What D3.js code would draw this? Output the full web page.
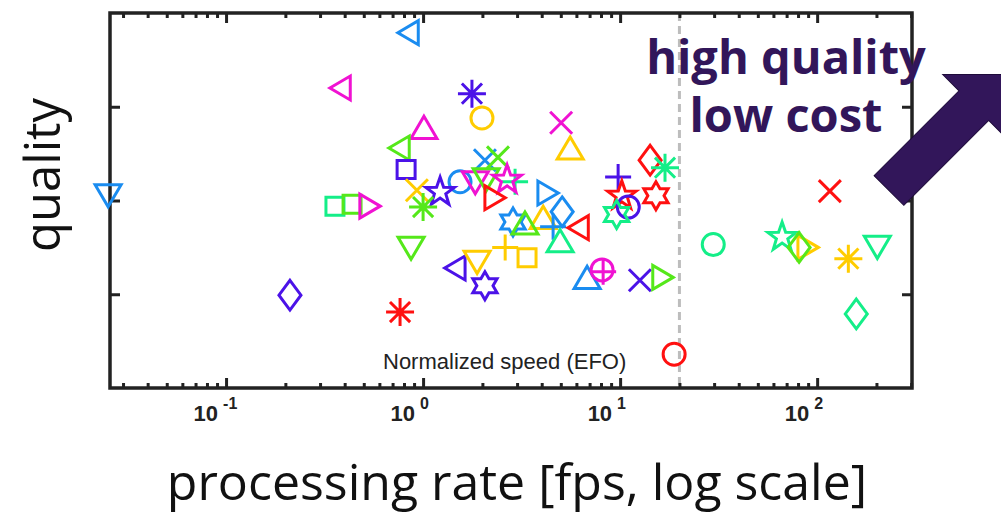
<!DOCTYPE html>
<html>
<head>
<meta charset="utf-8">
<script src="https://cdn.jsdelivr.net/npm/d3@7"></script>
<style>
  body { margin: 0; background: #fff; }
  svg { display: block; }
</style>
</head>
<body>
<div class="chart"></div>
<script>
// trackers: speed (EFO, log scale), quality, marker shape, colour group
const speed = [0.0252, 0.839, 0.379, 1.77, 1.99, 1.01, 0.755, 0.820, 5.02, 5.58,
  2.06, 2.40, 14.2, 16.9, 9.77, 10.2, 15.2, 11.0, 9.6, 1.54,
  0.93, 1.22, 1.00, 1.84, 2.09, 2.93, 2.67, 2.32, 4.31, 5.08,
  4.07, 2.86, 3.29, 4.57, 6.12, 4.96, 2.61, 3.37, 0.869, 1.45,
  1.88, 2.06, 0.764, 0.211, 0.357, 0.436, 0.538, 6.80, 8.10, 8.2,
  12.6, 16.5, 18.8, 29.7, 66.4, 90.0, 81.0, 144, 202, 158, 116];
const quality = [0.405, 0.579, 0.520, 0.514, 0.488, 0.478, 0.456, 0.433, 0.483, 0.456,
  0.443, 0.446, 0.443, 0.435, 0.425, 0.405, 0.405, 0.393, 0.385, 0.420,
  0.411, 0.409, 0.393, 0.419, 0.422, 0.420, 0.422, 0.403, 0.408, 0.388,
  0.382, 0.377, 0.376, 0.372, 0.371, 0.357, 0.350, 0.339, 0.349, 0.328,
  0.334, 0.309, 0.281, 0.299, 0.394, 0.396, 0.394, 0.318, 0.326, 0.324,
  0.315, 0.318, 0.236, 0.353, 0.361, 0.350, 0.350, 0.338, 0.350, 0.279, 0.410];
const shape = ["triDown", "triLeft", "triLeft", "asterisk", "circle", "triUp", "triLeft", "square", "cross", "triUp",
  "cross", "cross", "diamond", "asterisk", "plus", "pentagram", "hexagram", "circle", "hexagram", "circle",
  "cross", "pentagram", "asterisk", "triDown", "triDown", "plus", "pentagram", "triRight", "triRight", "diamond",
  "triUp", "hexagram", "triUp", "plus", "triLeft", "triUp", "plus", "square", "triDown", "triLeft",
  "triDown", "hexagram", "asterisk", "diamond", "square", "square", "triRight", "triUp", "circle", "plus",
  "cross", "triRight", "circle", "circle", "pentagram", "triRight", "diamond", "asterisk", "triDown", "diamond", "cross"];
const tone = ["azure", "azure", "magenta", "purple", "yellow", "magenta", "green", "purple", "magenta", "yellow",
  "azure", "green", "red", "mint", "purple", "red", "red", "purple", "mint", "azure",
  "yellow", "purple", "green", "magenta", "green", "mint", "magenta", "red", "azure", "azure",
  "yellow", "azure", "green", "azure", "red", "mint", "yellow", "yellow", "green", "purple",
  "yellow", "purple", "red", "purple", "mint", "green", "magenta", "azure", "magenta", "magenta",
  "purple", "green", "red", "mint", "mint", "yellow", "green", "yellow", "mint", "mint", "red"];

const xPowers = [-1, 0, 1, 2];
const yTicks = [0.3, 0.4, 0.5];
const efoLimit = 20;

const data = speed.map((s, i) => ({speed: s, quality: quality[i], shape: shape[i], tone: tone[i]}));

const palette = {
  red: "#ff1010", yellow: "#ffcc00", green: "#55e81a", mint: "#14ee88",
  azure: "#1a8cf0", purple: "#4b12e8", magenta: "#f012d2"
};

const width = 1001, height = 515;
const box = {left: 110, right: 912, top: 13, bottom: 388};

const svg = d3.select(".chart").append("svg")
  .attr("width", width)
  .attr("height", height);

const xScale = d3.scaleLog()
  .domain([0.02576, 303])
  .range([box.left, box.right]);

const yScale = d3.scaleLinear()
  .domain([0.2, 0.6])
  .range([box.bottom, box.top]);

// minor log ticks inside the domain
const minor = [];
for (let p = -2; p <= 2; p++) {
  for (let k = 2; k <= 9; k++) {
    const v = k * Math.pow(10, p);
    if (v > xScale.domain()[0] && v < xScale.domain()[1]) minor.push(v);
  }
}
const major = xPowers.map(p => Math.pow(10, p));

// dashed EFO limit
svg.append("line")
  .attr("x1", xScale(efoLimit)).attr("x2", xScale(efoLimit))
  .attr("y1", box.top).attr("y2", box.bottom)
  .attr("stroke", "#bdbdbd")
  .attr("stroke-width", 3)
  .attr("stroke-dasharray", "8,5");

svg.append("text")
  .attr("x", 383)
  .attr("y", 369)
  .attr("font-family", "Liberation Sans, Arial, sans-serif")
  .attr("font-size", 22)
  .attr("fill", "#222")
  .text("Normalized speed (EFO)");

// axes (ticks point inward)
function tickAxis(g, axis) {
  g.call(axis).call(a => a.select(".domain").remove());
  g.selectAll(".tick line").attr("stroke", "#222").attr("stroke-width", 3);
  g.selectAll(".tick text").remove();
}

svg.append("g").attr("transform", `translate(0,${box.bottom})`)
  .call(g => tickAxis(g, d3.axisBottom(xScale).tickValues(minor).tickSize(-5)));
svg.append("g").attr("transform", `translate(0,${box.bottom})`)
  .call(g => tickAxis(g, d3.axisBottom(xScale).tickValues(major).tickSize(-10)));
svg.append("g").attr("transform", `translate(0,${box.top})`)
  .call(g => tickAxis(g, d3.axisTop(xScale).tickValues(minor).tickSize(-5)));
svg.append("g").attr("transform", `translate(0,${box.top})`)
  .call(g => tickAxis(g, d3.axisTop(xScale).tickValues(major).tickSize(-10)));
svg.append("g").attr("transform", `translate(${box.left},0)`)
  .call(g => tickAxis(g, d3.axisLeft(yScale).tickValues(yTicks).tickSize(-10)));
svg.append("g").attr("transform", `translate(${box.right},0)`)
  .call(g => tickAxis(g, d3.axisRight(yScale).tickValues(yTicks).tickSize(-10)));

svg.append("rect")
  .attr("x", box.left).attr("y", box.top)
  .attr("width", box.right - box.left)
  .attr("height", box.bottom - box.top)
  .attr("fill", "none")
  .attr("stroke", "#222")
  .attr("stroke-width", 3.5);

// tick labels 10^p
const xLabels = svg.append("g")
  .attr("font-family", "Liberation Sans, Arial, sans-serif")
  .attr("font-weight", "bold")
  .attr("fill", "#222")
  .selectAll("g")
  .data(xPowers)
  .join("g")
  .attr("transform", d => `translate(${xScale(Math.pow(10, d))},421)`);
xLabels.append("text")
  .attr("x", -8)
  .attr("text-anchor", "end")
  .style("font-size", "22px")
  .text("10");
xLabels.append("text")
  .attr("x", -3)
  .attr("y", -12)
  .style("font-size", "16px")
  .text(d => d);

// marker shapes, size = radius in px
const symbols = {
  circle: {draw(c, r) { c.moveTo(r, 0); c.arc(0, 0, r, 0, 2 * Math.PI); }},
  square: {draw(c, r) { c.rect(-r, -r, 2 * r, 2 * r); }},
  diamond: {draw(c, r) {
    c.moveTo(0, -r * 1.35); c.lineTo(r, 0); c.lineTo(0, r * 1.35); c.lineTo(-r, 0); c.closePath();
  }},
  triUp: {draw(c, r) { c.moveTo(0, -r * 0.85); c.lineTo(r, r * 0.85); c.lineTo(-r, r * 0.85); c.closePath(); }},
  triDown: {draw(c, r) { c.moveTo(0, r * 0.85); c.lineTo(r, -r * 0.85); c.lineTo(-r, -r * 0.85); c.closePath(); }},
  triLeft: {draw(c, r) { c.moveTo(-r * 0.85, 0); c.lineTo(r * 0.85, -r); c.lineTo(r * 0.85, r); c.closePath(); }},
  triRight: {draw(c, r) { c.moveTo(r * 0.85, 0); c.lineTo(-r * 0.85, -r); c.lineTo(-r * 0.85, r); c.closePath(); }},
  plus: {draw(c, r) { c.moveTo(-r, 0); c.lineTo(r, 0); c.moveTo(0, -r); c.lineTo(0, r); }},
  cross: {draw(c, r) { c.moveTo(-r, -r); c.lineTo(r, r); c.moveTo(-r, r); c.lineTo(r, -r); }},
  asterisk: {draw(c, r) {
    const q = r * 0.72;
    c.moveTo(-r, 0); c.lineTo(r, 0); c.moveTo(0, -r); c.lineTo(0, r);
    c.moveTo(-q, -q); c.lineTo(q, q); c.moveTo(-q, q); c.lineTo(q, -q);
  }},
  pentagram: {draw(c, r) {
    for (let i = 0; i < 10; i++) {
      const a = -Math.PI / 2 + i * Math.PI / 5, rr = i % 2 ? r * 0.4 : r;
      i ? c.lineTo(rr * Math.cos(a), rr * Math.sin(a)) : c.moveTo(rr * Math.cos(a), rr * Math.sin(a));
    }
    c.closePath();
  }},
  hexagram: {draw(c, r) {
    for (let i = 0; i < 12; i++) {
      const a = -Math.PI / 2 + i * Math.PI / 6, rr = i % 2 ? r / Math.sqrt(3) : r;
      i ? c.lineTo(rr * Math.cos(a), rr * Math.sin(a)) : c.moveTo(rr * Math.cos(a), rr * Math.sin(a));
    }
    c.closePath();
  }}
};
const radius = {circle: 11, square: 9, diamond: 11, triUp: 13, triDown: 13, triLeft: 12, triRight: 12,
  plus: 13, cross: 11, asterisk: 14, pentagram: 15, hexagram: 14};

const marker = d3.symbol().type(d => symbols[d.shape]).size(d => radius[d.shape]);

svg.append("g")
  .attr("fill", "none")
  .attr("stroke-width", 3)
  .selectAll("path")
  .data(data)
  .join("path")
  .attr("transform", d => `translate(${xScale(d.speed)},${yScale(d.quality)})`)
  .attr("stroke", d => palette[d.tone])
  .attr("d", marker);

// axis titles
svg.append("text")
  .attr("transform", "translate(60,175) rotate(-90)")
  .attr("text-anchor", "middle")
  .attr("font-family", "Open Sans, sans-serif")
  .attr("font-size", 49)
  .attr("fill", "#111")
  .text("quality");

svg.append("text")
  .attr("x", 517)
  .attr("y", 500)
  .attr("text-anchor", "middle")
  .attr("font-family", "Open Sans, sans-serif")
  .attr("font-size", 50)
  .attr("fill", "#111")
  .text("processing rate [fps, log scale]");

// annotation
const note = svg.append("text")
  .attr("text-anchor", "middle")
  .attr("font-family", "Open Sans, sans-serif")
  .attr("font-weight", "bold")
  .attr("font-size", 47)
  .attr("fill", "#32165a");
note.append("tspan").attr("x", 786).attr("y", 74).text("high quality");
note.append("tspan").attr("x", 786).attr("y", 132).text("low cost");

const arrow = [[0, -21], [120, -21], [120, -44], [164, 0], [120, 44], [120, 21], [0, 21]];
svg.append("path")
  .attr("transform", "translate(889,190.5) rotate(-45)")
  .attr("d", d3.line()(arrow) + "Z")
  .attr("fill", "#32165a")
  .attr("stroke", "#1e0b3a")
  .attr("stroke-width", 1);
</script>
</body>
</html>
